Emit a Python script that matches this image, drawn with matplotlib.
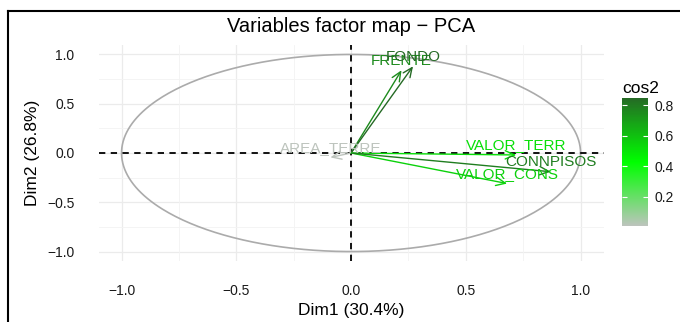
import numpy as np
import matplotlib
matplotlib.use("Agg")
import matplotlib.pyplot as plt
from matplotlib.colors import LinearSegmentedColormap, Normalize
from matplotlib.lines import Line2D

plt.rcParams["font.family"] = ["Liberation Sans", "DejaVu Sans"]

# variable coordinates on the first two PCA dimensions
var_names = ["FRENTE", "FONDO", "AREA_TERRE", "VALOR_TERR", "VALOR_CONS", "CONNPISOS"]
dim1 = [0.22, 0.27, -0.09, 0.72, 0.68, 0.87]
dim2 = [0.84, 0.88, -0.045, -0.02, -0.31, -0.19]

axis_ticks = [-1.0, -0.5, 0.0, 0.5, 1.0]
minor_ticks = [-0.75, -0.25, 0.25, 0.75]
cbar_ticks = [0.2, 0.4, 0.6, 0.8]

W, H = 680, 322
fig = plt.figure(figsize=(W / 100, H / 100), dpi=100)

ax = fig.add_axes([98.6 / W, 1 - 261.4 / H, 504.9 / W, 216.8 / H])
ax.set_xlim(-1.1, 1.1)
ax.set_ylim(-1.1, 1.1)
for s in ax.spines.values():
    s.set_visible(False)

# grid (theme_minimal look)
for v in axis_ticks:
    ax.axvline(v, color="#EBEBEB", lw=0.9, zorder=0)
    ax.axhline(v, color="#EBEBEB", lw=0.9, zorder=0)
for v in minor_ticks:
    ax.axvline(v, color="#F3F3F3", lw=0.6, zorder=0)
    ax.axhline(v, color="#F3F3F3", lw=0.6, zorder=0)

ax.set_xticks(axis_ticks)
ax.set_yticks(axis_ticks)
ax.set_xticklabels(["\u22121.0", "\u22120.5", "0.0", "0.5", "1.0"])
ax.set_yticklabels(["\u22121.0", "\u22120.5", "0.0", "0.5", "1.0"])
ax.tick_params(axis="x", length=0, pad=16, labelsize=10, labelcolor="#1a1a1a")
ax.tick_params(axis="y", length=0, pad=17.5, labelsize=10, labelcolor="#1a1a1a")

# correlation circle
t = np.linspace(0, 2 * np.pi, 400)
ax.plot(np.cos(t), np.sin(t), color="#ABABAB", lw=1.2, zorder=1)

ax.axhline(0, color="black", lw=1.3, ls=(0, (3.5, 3)), zorder=2)
ax.axvline(0, color="black", lw=1.3, ls=(0, (3.5, 3)), zorder=2)

# colour by cos2
cos2 = [x * x + y * y for x, y in zip(dim1, dim2)]
cmap = LinearSegmentedColormap.from_list("cos2", ["#BDC4BD", "#00FF00", "#256A25"])
norm = Normalize(vmin=min(cos2), vmax=max(cos2))

for name, x, y, c in zip(var_names, dim1, dim2, cos2):
    col = cmap(norm(c))
    ax.annotate("", xy=(x, y), xytext=(0, 0),
                arrowprops=dict(arrowstyle="->,head_length=0.45,head_width=0.2",
                                color=col, lw=1.0, shrinkA=0, shrinkB=0,
                                mutation_scale=15), zorder=3)
    ax.annotate(name, xy=(x, y), xytext=(0, 4), textcoords="offset points",
                ha="center", va="baseline", fontsize=11, color=col, zorder=4)

fig.text(351 / W, 1 - 27 / H, "Variables factor map \u2212 PCA",
         ha="center", va="center", fontsize=14.5)
fig.text(351 / W, 1 - 310 / H, "Dim1 (30.4%)", ha="center", va="center", fontsize=12.5)
fig.text(32.5 / W, 1 - 153 / H, "Dim2 (26.8%)", ha="center", va="center",
         rotation=90, fontsize=12.5)

# colour bar
cax = fig.add_axes([622 / W, 1 - 226 / H, 26 / W, 128 / H])
sm = matplotlib.cm.ScalarMappable(norm=norm, cmap=cmap)
cb = fig.colorbar(sm, cax=cax)
cb.outline.set_visible(False)
cb.set_ticks(cbar_ticks)
cb.set_ticklabels(["0.2", "0.4", "0.6", "0.8"])
cax.tick_params(length=0, pad=5, labelsize=10, labelcolor="#1a1a1a")
cax.hlines(cbar_ticks, 0, 0.2, color="white", lw=0.8)
cax.hlines(cbar_ticks, 0.8, 1.0, color="white", lw=0.8)
fig.text(622 / W, 1 - 88 / H, "cos2", ha="left", va="center", fontsize=12.5)

# border of the screenshot
fig.add_artist(Line2D([8 / W, 8 / W], [0, 1 - 10.5 / H], transform=fig.transFigure,
                      color="black", lw=1.5))
fig.add_artist(Line2D([8 / W, 1], [1 - 10.5 / H, 1 - 10.5 / H], transform=fig.transFigure,
                      color="black", lw=1.5))

fig.savefig("out.png", dpi=100)
